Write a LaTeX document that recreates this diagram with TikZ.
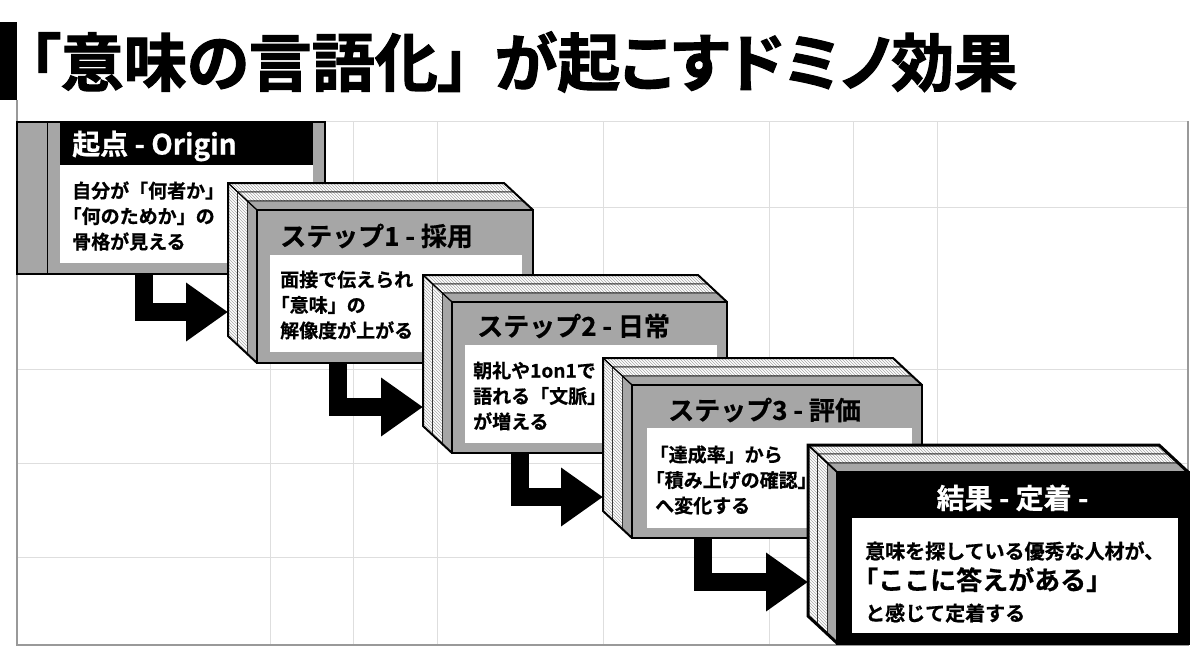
\documentclass[tikz,border=0pt]{standalone}
\usepackage{fontspec}
\newfontfamily\jpfont{Noto Sans CJK JP}[UprightFont=* Bold, FakeBold=0.6]
\newfontfamily\jpheavy{Noto Sans CJK JP}[UprightFont=* Bold, RawFeature=+palt, FakeBold=1.8]
\usetikzlibrary{calc, patterns, arrows.meta, positioning}
\tikzset{
  grid/.style={draw=black!13, line width=1pt},
  gridframe/.style={draw=black!40, line width=1.3pt},
  front/.style={rectangle, draw=black, line width=2pt, fill=black!35, anchor=north west, inner sep=0pt, outer sep=0pt},
  frontfinal/.style={front, fill=black, line width=3pt},
  hatchband/.style={draw=black, line width=0.6pt, pattern=north west lines, pattern color=black!35, preaction={fill=white}},
  grayband/.style={draw=black, line width=0.6pt, fill=black!35},
  edge/.style={draw=black, line join=miter},
  bodybox/.style={fill=white},
  steptitle/.style={anchor=west, inner sep=0pt, font=\jpfont\fontsize{26}{30}\selectfont},
  bodytext/.style={anchor=west, inner sep=0pt, align=left, font=\jpfont\fontsize{19}{25.5}\selectfont},
  flow/.style={line width=18pt, line join=miter, -{Triangle[length=42pt, width=56pt]}},
}
% opening bracket at the start of a line
\newcommand{\lbr}{\hspace*{-.5em}「}
% side and top faces of a step box, drawn round its front node
\newcommand{\stepfaces}[2][2pt]{%
  \foreach \p/\q/\sty in {1/.667/hatchband, .667/.333/hatchband, .333/0/grayband}{
    \draw[\sty] ($(#2.north west)+\p*(-29,-27)$) -- ($(#2.north east)+\p*(-29,-27)$)
      -- ($(#2.north east)+\q*(-29,-27)$) -- ($(#2.north west)+\q*(-29,-27)$) -- cycle;
    \draw[\sty] ($(#2.north west)+\p*(-29,-27)$) -- ($(#2.south west)+\p*(-29,-27)$)
      -- ($(#2.south west)+\q*(-29,-27)$) -- ($(#2.north west)+\q*(-29,-27)$) -- cycle;
  }
  \draw[edge, line width=#1] (#2.north east) -- ++(-29,-27) -- ($(#2.north west)+(-29,-27)$)
    -- ($(#2.south west)+(-29,-27)$) -- (#2.south west);
  \draw[edge, line width=#1*0.6] (#2.north west) -- ++(-29,-27);
  \draw[edge, line width=#1] (#2.north west) rectangle (#2.south east);
}

\begin{document}
\begin{tikzpicture}[x=1pt, y=-1pt]
  \useasboundingbox[fill=white] (0,0) rectangle (1200,651);
  % background grid
  \foreach \gx in {270,353,437,603,769,853,937}
    \draw[grid] (\gx,121) -- (\gx,645);
  \foreach \gy in {121,207,369,463,557}
    \draw[grid] (17,\gy) -- (1188,\gy);
  \draw[gridframe] (17,100) -- (17,645) -- (1188,645) -- (1188,121);

  % title
  \fill[black] (0,22) rectangle (17,100);
  \node[anchor=west, inner sep=0pt, font=\jpheavy\fontsize{63}{70}\selectfont] (title) at (29,62) {「意味の言語化」\hspace{.4em}が起こすドミノ効果};

  % origin
  \node[front, line width=1.2pt, minimum width=308pt, minimum height=152pt] (s0) at (17,122) {};
  \draw[line width=0.8pt] ($(s0.north west)+(30,0)$) -- ($(s0.south west)+(30,0)$);
  \fill[black] ($(s0.north west)+(43,0)$) rectangle ($(s0.north east)+(-12,43)$);
  \fill[bodybox] ($(s0.north west)+(43,43)$) rectangle ($(s0.south east)+(-12,-11)$);
  \node[anchor=west, inner sep=0pt, text=white, font=\jpfont\fontsize{28}{32}\selectfont] (t0) at ($(s0.north west)+(55,24)$) {起点 - Origin};
  \node[bodytext] (b0) at ($(s0.north west)+(55,94)$) {自分が「何者か」\\\lbr 何のためか」の\\骨格が見える};

  % step 1
  \node[front, minimum width=276pt, minimum height=153pt] (s1) at (257,210) {};
  \stepfaces{s1}
  \coordinate (a1s) at ($(s0.south west)+(127,0)$);
  \coordinate (a1e) at ($(s1.north west)+(-29,102)$);
  \draw[flow] (a1s) |- (a1e);
  \fill[bodybox] ($(s1.north west)+(13,45)$) rectangle ($(s1.south east)+(-11,-11)$);
  \node[steptitle] (t1) at ($(s1.north west)+(23,26)$) {ステップ1 - 採用};
  \node[bodytext] (b1) at ($(s1.north west)+(23,95)$) {面接で伝えられ\\\lbr 意味」の\\解像度が上がる};

  % step 2
  \coordinate (a2s) at ($(s1.south west)+(81,0)$);
  \node[front, minimum width=275pt, minimum height=151pt] (s2) at (452,302) {};
  \coordinate (a2e) at ($(s2.north west)+(-29,105)$);
  \draw[flow] (a2s) |- (a2e);
  \stepfaces{s2}
  \fill[bodybox] ($(s2.north west)+(13,43)$) rectangle ($(s2.south east)+(-10,-10)$);
  \node[steptitle] (t2) at ($(s2.north west)+(25,24)$) {ステップ2 - 日常};
  \node[bodytext] (b2) at ($(s2.north west)+(21,94)$) {朝礼や1on1で\\語れる「文脈」\\が増える};

  % step 3
  \coordinate (a3s) at ($(s2.south west)+(68,0)$);
  \node[front, minimum width=290pt, minimum height=153pt] (s3) at (632,385) {};
  \coordinate (a3e) at ($(s3.north west)+(-29,112)$);
  \draw[flow] (a3s) |- (a3e);
  \stepfaces{s3}
  \fill[bodybox] ($(s3.north west)+(15,43)$) rectangle ($(s3.south east)+(-10,-10)$);
  \node[steptitle] (t3) at ($(s3.north west)+(36,25)$) {ステップ3 - 評価};
  \node[bodytext] (b3) at ($(s3.north west)+(23,95)$) {\hspace*{4pt}\lbr 達成率」から\\\lbr 積み上げの確認」\\へ変化する};

  % result
  \coordinate (a4s) at ($(s3.south west)+(71,0)$);
  \node[frontfinal, minimum width=351pt, minimum height=171pt] (s4) at (837,472) {};
  \coordinate (a4e) at ($(s4.north west)+(-29,110)$);
  \draw[flow] (a4s) |- (a4e);
  \stepfaces[3pt]{s4}
  \fill[bodybox] ($(s4.north west)+(15,46)$) rectangle ($(s4.south east)+(-10,-10)$);
  \node[steptitle, anchor=center, text=white, font=\jpfont\fontsize{28}{32}\selectfont] (t4) at ($(s4.north)+(0,26)$) {結果 - 定着 -};
  \node[bodytext, font=\jpfont\fontsize{20}{31}\selectfont] (b4) at ($(s4.north west)+(28,110)$) {意味を探している優秀な人材が、\\{\fontsize{26}{31}\selectfont\lbr ここに答えがある」}\\と感じて定着する};
\end{tikzpicture}
\end{document}
